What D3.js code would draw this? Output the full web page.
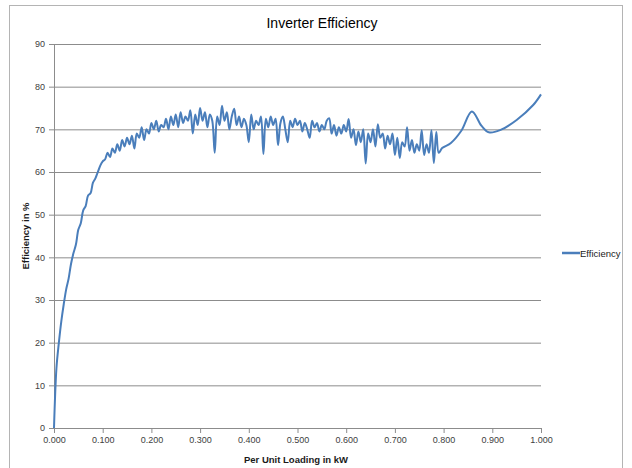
<!DOCTYPE html>
<html>
<head>
<meta charset="utf-8">
<script src="https://cdn.jsdelivr.net/npm/d3@7"></script>
<style>
  body { margin: 0; background: #fff; }
  text { font-family: "Liberation Sans Narrow", "Liberation Sans", Arial, sans-serif; }
</style>
</head>
<body>
<svg id="chart" width="632" height="468"></svg>
<script>
"use strict";

// per unit loading (kW) and measured efficiency (%)
const loading = [
  0.000, 0.005, 0.010, 0.015, 0.020, 0.025, 0.030, 0.035, 0.040, 0.045,
  0.050, 0.055, 0.060, 0.065, 0.070, 0.075, 0.080, 0.085, 0.090, 0.095,
  0.100, 0.105, 0.110, 0.115, 0.120, 0.125, 0.130, 0.135, 0.140, 0.145,
  0.150, 0.155, 0.160, 0.165, 0.170, 0.175, 0.180, 0.185, 0.190, 0.195,
  0.200, 0.205, 0.210, 0.215, 0.220, 0.225, 0.230, 0.235, 0.240, 0.245,
  0.250, 0.255, 0.260, 0.265, 0.270, 0.275, 0.280, 0.285, 0.290, 0.295,
  0.300, 0.305, 0.310, 0.315, 0.320, 0.325, 0.330, 0.335, 0.340, 0.345,
  0.350, 0.355, 0.360, 0.365, 0.370, 0.375, 0.380, 0.385, 0.390, 0.395,
  0.400, 0.405, 0.410, 0.415, 0.420, 0.425, 0.430, 0.435, 0.440, 0.445,
  0.450, 0.455, 0.460, 0.465, 0.470, 0.475, 0.480, 0.485, 0.490, 0.495,
  0.500, 0.505, 0.510, 0.515, 0.520, 0.525, 0.530, 0.535, 0.540, 0.545,
  0.550, 0.555, 0.560, 0.565, 0.570, 0.575, 0.580, 0.585, 0.590, 0.595,
  0.600, 0.605, 0.610, 0.615, 0.620, 0.625, 0.630, 0.635, 0.640, 0.645,
  0.650, 0.655, 0.660, 0.665, 0.670, 0.675, 0.680, 0.685, 0.690, 0.695,
  0.700, 0.705, 0.710, 0.715, 0.720, 0.725, 0.730, 0.735, 0.740, 0.745,
  0.750, 0.755, 0.760, 0.765, 0.770, 0.775, 0.780, 0.785, 0.790,
  0.797, 0.815, 0.836, 0.858, 0.878, 0.893, 0.916, 0.950, 0.984, 1.000
];
const efficiency = [
  0, 14, 20, 25, 29, 32.5, 35, 38.5, 41, 43,
  46.5, 48, 51, 52, 54.5, 55, 57.5, 58.5, 60, 61.5,
  62.5, 63, 64.5, 63.5, 65.5, 64.5, 66.5, 65, 67.5, 66,
  68, 66.5, 68.5, 65.5, 69, 68, 70.5, 67.5, 70, 69,
  71.5, 70, 72, 69.5, 71, 70.5, 72.5, 70, 73, 71,
  73.5, 70.5, 74, 71.5, 73, 72, 74.5, 69, 73.5, 71,
  75, 72, 74, 70.5, 73.5, 72, 64.5, 73, 71, 75.5,
  72, 74, 70, 73, 74.8, 71, 73, 70.5, 72.5, 71,
  67, 73.5, 70, 72, 71, 73, 64.2, 72.5, 70.5, 73,
  71, 72.5, 66.3, 71.5, 73, 70, 67, 72, 70.5, 72.5,
  71, 72, 69.5, 71.5, 70, 68, 72, 70.5, 71.5, 69.5,
  71, 70, 72, 72.6, 69, 71, 68.5, 70.5, 69, 71,
  69.5, 72.4, 68, 70, 66.3, 69.5, 67, 70, 62, 69,
  67, 70, 66, 71.2, 68, 69, 65.5, 68.5, 66.5, 69,
  64, 68, 63.3, 67, 66, 70.5, 65, 67.5, 64.5, 66.5,
  65, 69.8, 64, 66.5, 64.5, 69.8, 62.1, 69.4, 64.5,
  65.6, 66.8, 69.6, 74.2, 70.8, 69.3, 69.8, 72.2, 75.7, 78.2
];
const yTicks = [0, 10, 20, 30, 40, 50, 60, 70, 80, 90];
const xTicks = [0, 0.1, 0.2, 0.3, 0.4, 0.5, 0.6, 0.7, 0.8, 0.9, 1.0];

const svg = d3.select("#chart");
const lineColor = "#4a7ebb";
const gridColor = "#8c8c8c";

// outer chart frame
svg.append("rect")
  .attr("x", 9.5).attr("y", 5.5)
  .attr("width", 613).attr("height", 470)
  .attr("fill", "none").attr("stroke", "#b4b4b4");

const x = d3.scaleLinear().domain([0, 1]).range([54, 541]);
const y = d3.scaleLinear().domain([0, 90]).range([428, 44]);

// horizontal gridlines
svg.append("g")
  .attr("transform", `translate(${x(0)},0)`)
  .call(d3.axisLeft(y).tickValues(yTicks.slice(1)).tickSize(-(x(1) - x(0))).tickFormat(""))
  .call(g => g.select(".domain").remove())
  .selectAll("line").attr("stroke", gridColor);

// y axis
const yAxis = svg.append("g")
  .attr("transform", `translate(${x(0)},0)`)
  .call(d3.axisLeft(y).tickValues(yTicks).tickSize(5).tickPadding(4).tickFormat(d3.format("d")));

// x axis
const xAxis = svg.append("g")
  .attr("transform", `translate(0,${y(0)})`)
  .call(d3.axisBottom(x).tickValues(xTicks).tickSize(5).tickPadding(4).tickFormat(d3.format(".3f")));

[yAxis, xAxis].forEach(a => {
  a.select(".domain").attr("stroke", gridColor);
  a.selectAll(".tick line").attr("stroke", gridColor);
  a.selectAll(".tick text").attr("fill", "#404040").attr("font-size", 9);
});

// data line
const pts = loading.map((d, i) => [d, efficiency[i]]);
svg.append("path")
  .datum(pts)
  .attr("fill", "none")
  .attr("stroke", lineColor)
  .attr("stroke-width", 2)
  .attr("stroke-linejoin", "round")
  .attr("d", d3.line().x(d => x(d[0])).y(d => y(d[1])).curve(d3.curveCatmullRom.alpha(0.5)));

// titles
svg.append("text")
  .attr("x", 322).attr("y", 28)
  .attr("text-anchor", "middle")
  .attr("font-size", 14)
  .attr("fill", "#000")
  .text("Inverter Efficiency");

svg.append("text")
  .attr("x", 296).attr("y", 463)
  .attr("text-anchor", "middle")
  .attr("font-size", 9.5)
  .attr("font-weight", "bold")
  .attr("fill", "#1a1a1a")
  .text("Per Unit Loading in kW");

svg.append("text")
  .attr("transform", "translate(29,236) rotate(-90)")
  .attr("text-anchor", "middle")
  .attr("font-size", 9.5)
  .attr("font-weight", "bold")
  .attr("fill", "#1a1a1a")
  .text("Efficiency in %");

// legend
svg.append("line")
  .attr("x1", 562).attr("x2", 580)
  .attr("y1", 253).attr("y2", 253)
  .attr("stroke", lineColor).attr("stroke-width", 2.5);
svg.append("text")
  .attr("x", 580).attr("y", 256.5)
  .attr("font-size", 9.5)
  .attr("fill", "#1a1a1a")
  .text("Efficiency");
</script>
</body>
</html>
